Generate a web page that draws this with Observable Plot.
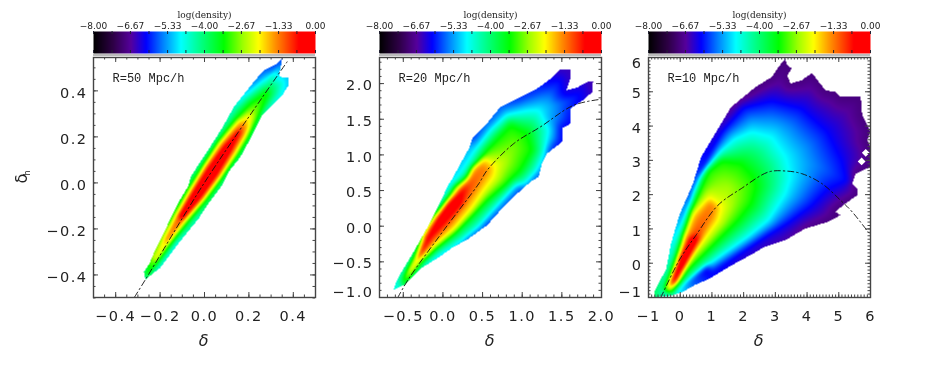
<!DOCTYPE html>
<html><head><meta charset="utf-8">
<script src="https://cdn.jsdelivr.net/npm/d3@7"></script>
<script src="https://cdn.jsdelivr.net/npm/@observablehq/plot@0.6"></script>
<style>html,body{margin:0;background:#fff}#c{position:relative;width:926px;height:372px;overflow:hidden;filter:blur(.45px)}</style>
</head><body><div id="c"></div>
<script>
// colour table of log(density)
const colorDomain=[-8,-7.3,-6.65,-6.1,-5.5,-4.85,-4.2,-3.3,-2.6,-2.05,-1.45,-0.6,0];
const colorRange=["#000000","#2d0045","#55009c","#0000ff","#0080ff","#00ffff","#00ff90","#00ff00","#a0ff00","#ffff00","#ff9000","#ff0000","#ff0000"];
const barLabels=["−8.00","−6.67","−5.33","−4.00","−2.67","−1.33","0.00"];
const barLabelValues=[-8,-6.67,-5.33,-4,-2.67,-1.33,0];
const barTicks=[-8,-7.33,-6.67,-6,-5.33,-4.67,-4,-3.33,-2.67,-2,-1.33,-0.67,0];

// Panel 1, R=50: ridge stations and half-widths of each density level
const p1RidgeX=[-.262,-.222,-.172,-.106,-.033,.036,.104,.155,.175,.205,.232,.28];
const p1RidgeY=[-.40,-.33,-.25,-.15,-.05,.05,.15,.22,.25,.29,.33,.39];
const p1Red=[null,null,null,.012,.025,.03,.022,.004,null,null,null,null];
const p1Orange=[null,null,.006,.02,.035,.04,.035,.025,.012,null,null,null];
const p1Yellow=[null,.004,.015,.03,.045,.052,.05,.04,.035,.004,null,null];
const p1Green=[.006,.02,.03,.042,.055,.062,.065,.058,.052,.045,.035,.006];
const p1Peak=[[-.106,-.15],[-.033,-.05],[.036,.05],[.104,.15]];
const p1Boundary=[[.35,.541,-5.8],[.335,.461,-5],[.377,.458,-5.2],[.38,.425,-5.2],[.35,.381,-5],[.297,.33,-4.7],[.26,.294,-4.6],[.215,.207,-4.4],[.162,.113,-4.3],[.109,.048,-4.8],[.087,.004,-4.4],[.08,-.01,-4.4],[.012,-.097,-4.2],[-.026,-.155,-4.8],[-.063,-.198,-4.6],[-.123,-.271,-5.2],[-.198,-.368,-5],[-.266,-.42,-4.6],[-.273,-.387,-4.8],[-.243,-.343,-5.2],[-.203,-.257,-5],[-.153,-.155,-4.4],[-.116,-.083,-4.2],[-.071,-.01,-4.2],[-.063,.026,-4.4],[.035,.171,-4.8],[.087,.251,-4.6],[.132,.33,-4.7],[.222,.439,-5.6],[.267,.49,-5.8],[.327,.519,-5.9]];
const p1Curve=[[-.315,-.496],[-.266,-.42],[-.003,-.003],[.252,.36],[.372,.526]];

// Panel 2, R=20
const p2Boundary=[[1.482,2.197,-6.5],[1.609,2.197,-6.5],[1.609,2.071,-6.5],[1.558,1.907,-6.3],[1.693,1.945,-6.3],[1.84,2.034,-6.5],[1.894,2.034,-6.6],[1.882,1.884,-6.5],[1.798,1.791,-6.3],[1.609,1.65,-6],[1.609,1.44,-6.2],[1.503,1.37,-6.2],[1.503,1.183,-6.2],[1.314,1.019,-6.1],[1.251,.879,-6],[1.209,.692,-6],[1.104,.622,-6],[.915,.435,-6],[.726,.224,-6],[.558,.014,-6.2],[.327,-.173,-6.2],[.116,-.304,-6],[-.073,-.453,-5.7],[-.283,-.594,-5.2],[-.493,-.827,-4.5],[-.619,-.888,-4.6],[-.598,-.804,-4.6],[-.535,-.664,-4.6],[-.346,-.313,-4.6],[-.157,.061,-4.6],[-.031,.341,-4.8],[.074,.598,-5],[.095,.622,-5],[.327,1.089,-5.3],[.369,1.23,-6],[.537,1.417,-5.8],[.726,1.674,-5.8],[.936,1.791,-6],[1.188,1.931,-6],[1.335,2.048,-6.2]];
const p2Cyan=[[1.21,1.63],[1.06,1.62],[.81,1.56],[.6,1.35],[.41,1.07],[.16,.62],[-.115,.13],[-.346,-.337],[-.556,-.757],[-.577,-.874],[-.241,-.547],[.011,-.36],[.242,-.196],[.453,-.009],[.6,.178],[.747,.365],[.915,.575],[1.04,.6],[1.19,.785],[1.28,1.02],[1.335,1.35]];
const p2Green=[[.85,1.42],[.56,1.07],[.35,.69],[.137,.575],[-.094,.131],[-.304,-.313],[-.493,-.711],[-.523,-.842],[-.325,-.58],[-.073,-.29],[.137,-.103],[.369,.154],[.558,.365],[.789,.575],[.978,.785],[1.125,1.07],[1.062,1.3]];
const p2Yellow=[[.516,.963],[.369,.83],[.284,.62],[-.031,.2],[-.241,-.243],[-.43,-.617],[-.472,-.781],[-.283,-.453],[-.073,-.252],[.158,-.033],[.369,.248],[.516,.505],[.642,.692],[.663,.856]];
const p2Orange=[[.495,.856],[.369,.739],[.2,.528],[.011,.224],[-.157,-.103],[-.346,-.524],[-.409,-.687],[-.317,-.477],[-.115,-.196],[.095,.037],[.284,.318],[.432,.552],[.558,.785]];
const p2Red=[[.263,.528],[.074,.365],[-.094,.131],[-.241,-.15],[-.333,-.439],[-.304,-.43],[-.136,-.15],[.053,.084],[.242,.318]];
const p2Peak=[[-.2,-.38],[.02,-.07],[.22,.25]];
const p2Curve=[[-.569,-1],[-.43,-.734],[.011,-.056],[.453,.598],[.558,.785],[.894,1.159],[1.23,1.393],[1.651,1.697],[2,1.781]];

// Panel 3, R=10
const p3Boundary=[[3.31,5.97,-6.9],[3.38,5.77,-6.9],[3.52,5.68,-6.9],[3.38,5.48,-6.9],[3.47,5.24,-6.9],[3.84,5.34,-6.9],[4.15,5.55,-6.9],[4.37,5.29,-6.9],[4.58,5.04,-6.9],[4.89,5,-6.9],[5.05,4.85,-6.9],[5.69,4.85,-6.9],[5.74,4.31,-6.9],[6,3.83,-6.9],[5.9,3.59,-6.9],[6,3.39,-6.9],[6,2.81,-6.9],[5.53,2.61,-6.9],[5.42,2.32,-6.9],[5.58,2.18,-6.9],[5.58,1.98,-6.9],[5.21,1.74,-6.9],[4.89,1.5,-6.9],[5.05,1.4,-6.9],[4.68,1.21,-6.9],[3.94,1.01,-6.8],[3.31,.67,-6.6],[2.67,.48,-6.5],[2.2,.23,-6.4],[1.72,-.01,-6.3],[1.19,-.3,-6.1],[.93,-.45,-6],[.45,-.64,-5.6],[.08,-.84,-5],[-.34,-.96,-4.6],[-.82,-1,-3.9],[-.82,-.84,-3.8],[-.66,-.54,-4],[-.45,-.2,-4.4],[-.29,.57,-4.8],[-.03,1.4,-5.2],[.4,2.32,-5.6],[.66,3.1,-6],[.98,3.59,-6.3],[1.61,4.56,-6.8],[2.35,5.12,-6.9],[2.88,5.43,-6.9],[3.18,5.82,-6.9]];
const p3Blue=[[.93,3.15],[1.3,3.83],[1.98,4.56],[2.88,4.77],[3.84,4.56],[4.68,3.88],[5.16,3],[5.32,2.37],[4.68,2.13],[4.15,1.64],[3.41,1.16],[2.78,.82],[2.14,.43],[1.51,.04],[.93,-.32],[.34,2.03]];
const p3Cyan=[[-.29,-.93],[.03,-.69],[.66,-.2],[1.3,.23],[2.14,.77],[2.78,1.25],[3.31,2.03],[3.47,2.52],[3.31,3.1],[2.88,3.68],[2.25,3.83],[1.72,3.63],[1.3,3.29],[.61,2.52],[.13,1.35],[-.19,.57],[-.4,-.2],[-.66,-.79]];
const p3Green=[[-.24,-.84],[.24,-.2],[.77,.28],[1.3,.77],[1.83,1.25],[2.25,1.74],[2.41,2.23],[2.3,2.52],[1.93,2.91],[1.3,3],[.87,2.71],[.61,2.13],[.34,1.55],[.08,.67],[-.24,-.11],[-.5,-.79]];
const p3Yellow=[[-.4,-.88],[-.08,-.35],[.34,.23],[.77,.72],[1.19,1.25],[1.3,1.64],[.93,1.93],[.4,1.45],[.08,.77],[-.13,-.06],[-.42,-.74]];
const p3Orange=[[.93,1.76],[.5,1.25],[.19,.57],[-.08,-.03],[-.34,-.64],[-.24,-.69],[.13,-.155],[.61,.67],[1,1.35],[1.08,1.64]];
const p3Red=[[.29,.77],[-.06,.088],[-.31,-.59],[-.13,-.59],[.29,.136],[.61,.75]];
const p3Peak=[[-.22,-.59],[.12,.11],[.43,.75]];
const p3Holes=[[5.85,3.22],[5.72,2.97]];
const p3Curve=[[-.61,-1],[-.03,.088],[.5,.82],[1.19,1.69],[1.93,2.18],[2.78,2.66],[3.31,2.69],[3.84,2.61],[4.47,2.32],[5.05,1.84],[5.42,1.5],[6,.82]];

// Axes
const p1XTicks=[-.4,-.2,0,.2,.4], p1YTicks=[-.4,-.2,0,.2,.4];
const p1XMinor=d3.range(-10,11).map(d=>d*.05), p1YMinor=d3.range(-10,11).map(d=>d*.05);
const p2XTicks=[-.5,0,.5,1,1.5,2], p2YTicks=[-.5,0,.5,1,1.5,2];
const p2XMinor=d3.range(-8,21).map(d=>d*.1), p2YMinor=d3.range(-10,24).map(d=>d*.1);
const p3XTicks=[-1,0,1,2,3,4,5,6], p3YTicks=[0,1,2,3,4,5];
const p3XMinor=d3.range(-10,61).map(d=>d*.1), p3YMinor=d3.range(-10,61).map(d=>d*.1);

const color={type:"linear",domain:colorDomain,range:colorRange,clamp:true,interpolate:"rgb"};
const root=document.getElementById("c");
const tickColor="#444";
const fmt1=d=>(d<0?"−":"")+Math.abs(d).toFixed(1);
const fmt0=d=>(d<0?"−":"")+Math.abs(d);

// Rings from the outermost (boundary) to the innermost (open ridge line)
function p1Rings(){
  const ring=(w,level)=>{
    const right=[],left=[];
    w.forEach((h,i)=>{ if(h==null) return;
      right.push([p1RidgeX[i]+.69*h,p1RidgeY[i]-.46*h,level]);
      left.push([p1RidgeX[i]-.69*h,p1RidgeY[i]+.46*h,level]);
    });
    return right.concat(left.reverse());
  };
  return [p1Boundary,ring(p1Green,-3.3),ring(p1Yellow,-2.05),ring(p1Orange,-1.4),ring(p1Red,-.55),p1Peak.map(d=>[d[0],d[1],-.1])];
}
const lv=(pts,level)=>pts.map(d=>[d[0],d[1],level]);
const p2Rings=[p2Boundary,lv(p2Cyan,-4.85),lv(p2Green,-3.3),lv(p2Yellow,-2.05),lv(p2Orange,-1.4),lv(p2Red,-.55),lv(p2Peak,-.1)];
const p3Rings=[p3Boundary,lv(p3Blue,-6.15),lv(p3Cyan,-4.85),lv(p3Green,-3.3),lv(p3Yellow,-2.05),lv(p3Orange,-1.4),lv(p3Red,-.55),lv(p3Peak,-.1)];

function inside(P,x,y){
  let c=false;
  for(let i=0,j=P.length-1;i<P.length;j=i++){
    const a=P[i],b=P[j];
    if((a[1]>y)!==(b[1]>y) && x<(b[0]-a[0])*(y-a[1])/(b[1]-a[1])+a[0]) c=!c;
  }
  return c;
}
function nearest(P,x,y,closed){
  let best=Infinity,val=P[0][2];
  const n=P.length, m=closed?n:n-1;
  for(let i=0;i<m;i++){
    const a=P[i],b=P[(i+1)%n];
    const dx=b[0]-a[0],dy=b[1]-a[1],l=dx*dx+dy*dy;
    const t=l?Math.max(0,Math.min(1,((x-a[0])*dx+(y-a[1])*dy)/l)):0;
    const ex=a[0]+t*dx-x,ey=a[1]+t*dy-y,d=ex*ex+ey*ey;
    if(d<best){best=d;val=a[2]+t*(b[2]-a[2]);}
  }
  return [Math.sqrt(best),val];
}
// Raster interpolator: blends the density between one contour ring and the next,
// then softens the corners inside the outer boundary only
function contourInterpolator(ringOf,radius){
  return (index,w,h,X,Y,V)=>{
    const P=[];
    for(const i of index){ (P[ringOf[i]]??=[]).push([X[i],Y[i],V[i]]); }
    const W=new Float64Array(w*h).fill(NaN);
    const A=new Float64Array(w*h), M=new Float64Array(w*h);
    const last=P.length-1;
    for(let j=0;j<h;j++) for(let i=0;i<w;i++){
      const x=i+.5,y=j+.5;
      let k=-1;
      for(let r=last-1;r>=0;r--) if(inside(P[r],x,y)){k=r;break;}
      if(k<0) continue;
      const a=nearest(P[k],x,y,true), b=nearest(P[k+1],x,y,k+1<last);
      const v=a[1]+(b[1]-a[1])*a[0]/(a[0]+b[0]||1);
      W[j*w+i]=v; A[j*w+i]=v; M[j*w+i]=1;
    }
    d3.blur2({data:A,width:w,height:h},radius);
    d3.blur2({data:M,width:w,height:h},radius);
    for(let i=0;i<W.length;i++) if(!isNaN(W[i])) W[i]=A[i]/M[i];
    return W;
  };
}

function panel(o){
  const W=222,H=240,ml=60,mr=20,mt=7,mb=62;
  const samples=o.rings.flatMap((r,k)=>r.map(d=>({x:d[0],y:d[1],v:d[2],ring:k})));
  const marks=[
    Plot.raster(samples,{x:"x",y:"y",fill:"v",interpolate:contourInterpolator(samples.map(d=>d.ring),o.soften),pixelSize:1,imageRendering:"auto"}),
    ...(o.holes?[Plot.dot(o.holes,{x:d=>d[0],y:d=>d[1],symbol:"diamond2",r:3.5,fill:"white"})]:[]),
    Plot.line(o.curve,{x:d=>d[0],y:d=>d[1],curve:"catmull-rom",stroke:"#111",strokeWidth:.9,strokeDasharray:"6 3 1.5 3"}),
    Plot.ruleX(o.xMinor,{x:d=>d,insetTop:H-2.5,stroke:tickColor}),
    Plot.ruleX(o.xMinor,{x:d=>d,insetBottom:H-2.5,stroke:tickColor}),
    Plot.ruleX(o.xTicks,{x:d=>d,insetTop:H-5,stroke:tickColor}),
    Plot.ruleX(o.xTicks,{x:d=>d,insetBottom:H-5,stroke:tickColor}),
    Plot.ruleY(o.yMinor,{y:d=>d,insetRight:W-2.5,stroke:tickColor}),
    Plot.ruleY(o.yMinor,{y:d=>d,insetLeft:W-2.5,stroke:tickColor}),
    Plot.ruleY(o.yTicks,{y:d=>d,insetRight:W-5,stroke:tickColor}),
    Plot.ruleY(o.yTicks,{y:d=>d,insetLeft:W-5,stroke:tickColor}),
    Plot.frame({stroke:tickColor,strokeWidth:1.4}),
    Plot.axisX({ticks:o.xTicks,tickFormat:o.fmt,tickSize:0,tickPadding:13,label:null,fontSize:14.5,fill:"#222"}),
    Plot.axisY({ticks:o.yLabels,tickFormat:o.fmt,tickSize:0,tickPadding:6,label:null,dy:2,fontSize:14.5,fill:"#222"}),
    ...(o.yExtra||[]).map(([t,dy])=>Plot.axisY({ticks:[t],tickFormat:o.fmt,tickSize:0,tickPadding:6,label:null,dy,fontSize:14.5,fill:"#222"})),
    Plot.text([o.title],{frameAnchor:"top-left",lineAnchor:"middle",textAnchor:"start",dx:19,dy:21,fontFamily:"Liberation Mono",fontSize:12,fill:"#222"}),
    Plot.text(["δ"],{frameAnchor:"bottom",lineAnchor:"middle",dy:43,fontSize:16,fontStyle:"italic",fill:"#222",fontFamily:"DejaVu Sans"})
  ];
  if(o.yTitle) marks.push(
    Plot.text(["δ"],{frameAnchor:"left",lineAnchor:"middle",rotate:-90,dx:-72,dy:6,fontSize:16,fill:"#222",fontFamily:"DejaVu Sans"}),
    Plot.text(["h"],{frameAnchor:"left",lineAnchor:"middle",rotate:-90,dx:-66,dy:-2,fontSize:8,fill:"#222",fontFamily:"DejaVu Sans"})
  );
  const svg=Plot.plot({width:W+ml+mr,height:H+mt+mb,marginLeft:ml,marginRight:mr,marginTop:mt,marginBottom:mb,
    x:{domain:o.xd},y:{domain:o.yd},color,
    style:{position:"absolute",left:(o.left-ml)+"px",top:(57.3-mt)+"px",background:"transparent",letterSpacing:"1.5px",fontFamily:"DejaVu Sans",overflow:"visible",maxWidth:"none"},
    marks});
  svg.querySelectorAll("text").forEach(t=>{ if(t.textContent===o.title) t.style.letterSpacing="0"; });
  root.appendChild(svg);
}

function bar(left){
  const ml=30,mr=30,mt=26,mb=4,W=222,H=22;
  const svg=Plot.plot({width:W+ml+mr,height:H+mt+mb,marginLeft:ml,marginRight:mr,marginTop:mt,marginBottom:mb,
    x:{domain:[-8,0]},y:{domain:[0,1],axis:null},color,
    style:{position:"absolute",left:(left-ml)+"px",top:"5px",background:"transparent",fontFamily:"DejaVu Sans",overflow:"visible",maxWidth:"none"},
    marks:[
      Plot.raster({x1:-8,x2:0,y1:0,y2:1,fill:(x,y)=>x,pixelSize:1}),
      Plot.ruleX(barTicks,{x:d=>d,insetTop:H-3,stroke:"#223"}),
      Plot.ruleX(barTicks,{x:d=>d,insetBottom:H-3,stroke:"#223"}),
      Plot.ruleY([0],{y:d=>d,stroke:"#bbb",strokeWidth:2,dy:1.5}),
      Plot.axisX({anchor:"top",ticks:barLabelValues,tickFormat:(d,i)=>barLabels[i],tickSize:0,tickPadding:3,label:null,fontSize:9,fill:"#222"}),
      Plot.text(["log(density)"],{frameAnchor:"top",lineAnchor:"middle",dy:-16,fontSize:9,fontFamily:"DejaVu Serif",fill:"#222"})
    ]});
  root.appendChild(svg);
}

const lefts=[92.5,379,647.5];
panel({left:lefts[0],xd:[-.5,.5],yd:[-.498,.545],title:"R=50 Mpc/h",rings:p1Rings(),curve:p1Curve,soften:1.2,
  xTicks:p1XTicks,yTicks:p1YTicks,yLabels:p1YTicks,xMinor:p1XMinor,yMinor:p1YMinor,fmt:fmt1,yTitle:true});
panel({left:lefts[1],xd:[-.8,2],yd:[-1,2.366],title:"R=20 Mpc/h",rings:p2Rings,curve:p2Curve,soften:2,
  xTicks:p2XTicks,yTicks:p2YTicks,yLabels:p2YTicks,yExtra:[[-1,-5]],xMinor:p2XMinor,yMinor:p2YMinor,fmt:fmt1});
panel({left:lefts[2],xd:[-1,6],yd:[-1,6],title:"R=10 Mpc/h",rings:p3Rings,curve:p3Curve,holes:p3Holes,soften:2,
  xTicks:p3XTicks,yTicks:[-1,...p3YTicks,6],yLabels:p3YTicks,yExtra:[[-1,-5],[6,5.5]],xMinor:p3XMinor,yMinor:p3YMinor,fmt:fmt0});
lefts.forEach(bar);
</script></body></html>
